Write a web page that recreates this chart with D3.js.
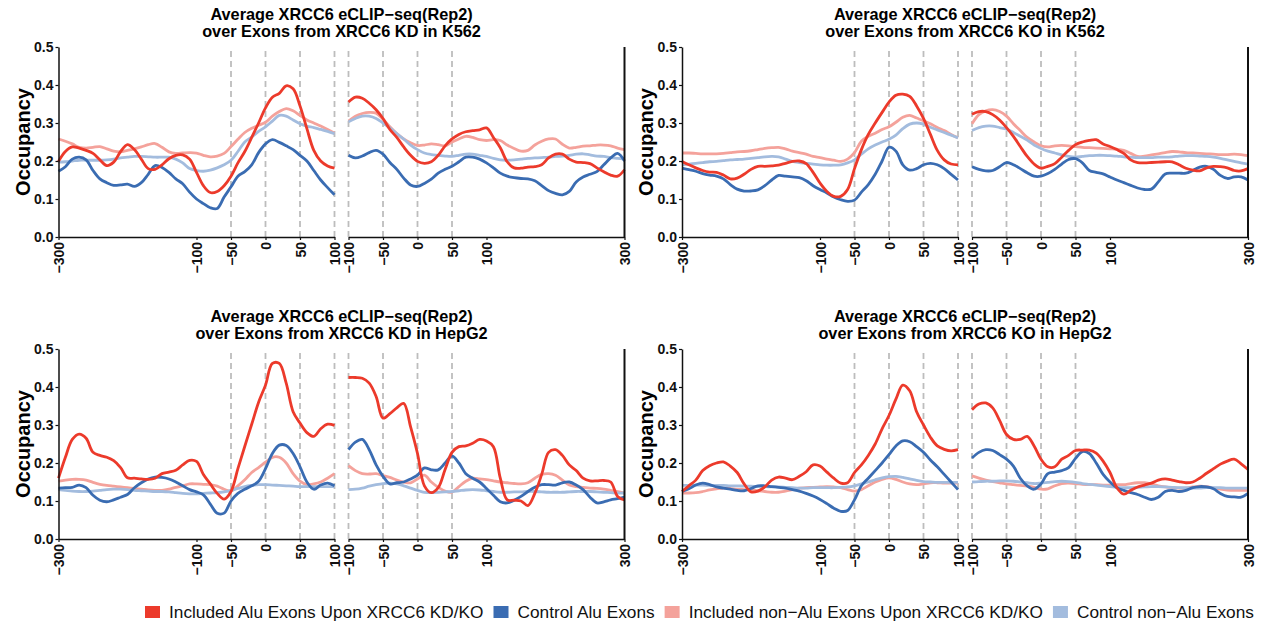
<!DOCTYPE html>
<html>
<head>
<meta charset="utf-8">
<script src="https://cdn.jsdelivr.net/npm/d3@7"></script>
<style>
  html, body { margin: 0; padding: 0; background: #fff; }
  svg { display: block; font-family: "Liberation Sans", Arial, Helvetica, sans-serif; }
</style>
</head>
<body>
<svg id="chart" width="1265" height="627"></svg>
<script>
// Positions (nt) around the upstream (3' splice site side) and downstream windows
const upPos = [-300,-290,-280,-270,-260,-250,-240,-230,-220,-210,-200,-190,-180,-170,-160,-150,-140,-130,-120,-110,-100,-90,-80,-70,-60,-50,-40,-30,-20,-10,0,10,20,30,40,50,60,70,80,90,100];
const dnPos = [-100,-90,-80,-70,-60,-50,-40,-30,-20,-10,0,10,20,30,40,50,60,70,80,90,100,110,120,130,140,150,160,170,180,190,200,210,220,230,240,250,260,270,280,290,300];

const upTicks = [-300, -100, -50, 0, 50, 100];
const dnTicks = [-100, -50, 0, 50, 100, 300];
const upGuides = [-50, 0, 50, 100];
const dnGuides = [-100, -50, 0, 50];
const yTicks = [0, 0.1, 0.2, 0.3, 0.4, 0.5];

const seriesNames = [
  "Included Alu Exons Upon XRCC6 KD/KO",
  "Control Alu Exons",
  "Included non\u2212Alu Exons Upon XRCC6 KD/KO",
  "Control non\u2212Alu Exons"
];
const seriesColors = ["#ec3a2b", "#3a6cb2", "#f4a29b", "#a3bcde"];

// ---- XRCC6 KD in K562 ----
const k562KD_incAlu_up = [0.199,0.225,0.237,0.234,0.228,0.220,0.203,0.188,0.197,0.225,0.243,0.230,0.205,0.180,0.178,0.190,0.206,0.215,0.216,0.205,0.170,0.135,0.117,0.120,0.135,0.160,0.195,0.225,0.262,0.300,0.340,0.368,0.378,0.398,0.390,0.345,0.285,0.228,0.200,0.187,0.181];
const k562KD_ctrlAlu_up = [0.173,0.185,0.205,0.210,0.203,0.175,0.153,0.143,0.136,0.137,0.139,0.133,0.143,0.165,0.188,0.183,0.170,0.153,0.140,0.118,0.100,0.088,0.077,0.075,0.105,0.132,0.160,0.172,0.190,0.222,0.245,0.256,0.249,0.240,0.230,0.215,0.200,0.175,0.150,0.130,0.111];
const k562KD_incNon_up = [0.258,0.252,0.245,0.236,0.234,0.236,0.238,0.232,0.226,0.224,0.228,0.232,0.237,0.243,0.246,0.236,0.224,0.220,0.221,0.222,0.221,0.215,0.211,0.213,0.220,0.238,0.257,0.275,0.286,0.294,0.302,0.318,0.330,0.338,0.332,0.320,0.308,0.300,0.292,0.283,0.273];
const k562KD_ctrlNon_up = [0.197,0.198,0.200,0.202,0.202,0.202,0.202,0.203,0.205,0.208,0.210,0.212,0.212,0.211,0.210,0.210,0.210,0.205,0.195,0.180,0.175,0.173,0.176,0.182,0.190,0.202,0.225,0.250,0.263,0.278,0.290,0.305,0.320,0.318,0.308,0.298,0.292,0.288,0.283,0.278,0.272];
const k562KD_incAlu_dn = [0.355,0.368,0.365,0.352,0.335,0.312,0.283,0.262,0.237,0.215,0.199,0.194,0.198,0.215,0.240,0.258,0.270,0.277,0.280,0.282,0.287,0.262,0.235,0.198,0.182,0.181,0.184,0.185,0.190,0.208,0.218,0.218,0.205,0.197,0.196,0.193,0.182,0.172,0.163,0.160,0.177];
const k562KD_ctrlAlu_dn = [0.215,0.208,0.213,0.222,0.228,0.218,0.196,0.178,0.155,0.137,0.133,0.141,0.152,0.168,0.178,0.186,0.198,0.210,0.210,0.205,0.195,0.182,0.168,0.160,0.156,0.154,0.153,0.148,0.135,0.122,0.115,0.111,0.120,0.145,0.158,0.165,0.172,0.190,0.208,0.220,0.200];
const k562KD_incNon_dn = [0.305,0.318,0.325,0.328,0.326,0.310,0.290,0.272,0.258,0.248,0.241,0.242,0.245,0.243,0.240,0.250,0.258,0.265,0.262,0.256,0.254,0.256,0.254,0.242,0.233,0.226,0.228,0.242,0.252,0.258,0.258,0.244,0.234,0.236,0.239,0.240,0.242,0.242,0.240,0.234,0.230];
const k562KD_ctrlNon_dn = [0.303,0.312,0.318,0.318,0.312,0.300,0.287,0.272,0.258,0.242,0.230,0.221,0.217,0.215,0.213,0.212,0.215,0.218,0.218,0.215,0.212,0.207,0.203,0.202,0.203,0.205,0.207,0.208,0.209,0.210,0.212,0.213,0.215,0.218,0.219,0.216,0.213,0.212,0.209,0.207,0.205];

// ---- XRCC6 KO in K562 ----
const k562KO_incAlu_up = [0.199,0.190,0.182,0.175,0.171,0.170,0.163,0.153,0.155,0.165,0.178,0.186,0.186,0.187,0.189,0.194,0.199,0.200,0.193,0.170,0.142,0.120,0.107,0.107,0.125,0.180,0.230,0.270,0.300,0.328,0.355,0.373,0.376,0.370,0.345,0.312,0.270,0.228,0.203,0.192,0.190];
const k562KO_ctrlAlu_up = [0.181,0.177,0.173,0.167,0.163,0.160,0.153,0.138,0.126,0.121,0.121,0.124,0.135,0.150,0.162,0.160,0.158,0.156,0.148,0.135,0.125,0.116,0.105,0.098,0.094,0.097,0.118,0.138,0.165,0.200,0.236,0.226,0.190,0.176,0.180,0.190,0.194,0.190,0.180,0.165,0.150];
const k562KO_incNon_up = [0.221,0.221,0.220,0.219,0.219,0.219,0.220,0.222,0.224,0.225,0.227,0.230,0.233,0.235,0.236,0.232,0.226,0.222,0.218,0.212,0.209,0.205,0.202,0.199,0.205,0.222,0.252,0.265,0.273,0.283,0.290,0.302,0.315,0.320,0.313,0.306,0.298,0.288,0.280,0.270,0.261];
const k562KO_ctrlNon_up = [0.190,0.192,0.194,0.196,0.198,0.199,0.201,0.203,0.204,0.205,0.207,0.209,0.211,0.212,0.211,0.205,0.199,0.196,0.194,0.192,0.190,0.189,0.189,0.190,0.195,0.203,0.218,0.232,0.242,0.250,0.257,0.268,0.285,0.297,0.300,0.297,0.289,0.282,0.275,0.268,0.261];
const k562KO_incAlu_dn = [0.323,0.330,0.330,0.322,0.308,0.288,0.265,0.238,0.212,0.192,0.181,0.186,0.193,0.210,0.228,0.243,0.250,0.254,0.256,0.245,0.238,0.230,0.220,0.203,0.196,0.195,0.196,0.197,0.198,0.198,0.190,0.181,0.176,0.174,0.182,0.186,0.185,0.182,0.175,0.174,0.180];
const k562KO_ctrlAlu_dn = [0.185,0.178,0.174,0.175,0.185,0.196,0.190,0.180,0.169,0.160,0.160,0.167,0.178,0.192,0.204,0.206,0.195,0.175,0.170,0.166,0.158,0.150,0.143,0.136,0.129,0.125,0.126,0.145,0.166,0.168,0.168,0.168,0.175,0.184,0.186,0.178,0.162,0.154,0.158,0.158,0.150];
const k562KO_incNon_dn = [0.298,0.322,0.332,0.335,0.330,0.318,0.298,0.280,0.262,0.250,0.240,0.237,0.240,0.241,0.240,0.238,0.236,0.235,0.234,0.233,0.232,0.231,0.228,0.220,0.212,0.213,0.216,0.219,0.222,0.225,0.224,0.222,0.221,0.220,0.219,0.218,0.217,0.217,0.218,0.217,0.214];
const k562KO_ctrlNon_dn = [0.280,0.288,0.292,0.292,0.288,0.284,0.275,0.265,0.255,0.242,0.233,0.226,0.221,0.216,0.212,0.210,0.212,0.214,0.215,0.215,0.214,0.213,0.211,0.210,0.209,0.209,0.209,0.210,0.210,0.211,0.213,0.214,0.214,0.213,0.212,0.210,0.207,0.203,0.199,0.195,0.192];

// ---- XRCC6 KD in HepG2 ----
const hepg2KD_incAlu_up = [0.160,0.215,0.262,0.276,0.265,0.228,0.220,0.215,0.206,0.188,0.161,0.160,0.158,0.157,0.160,0.172,0.176,0.181,0.195,0.207,0.204,0.170,0.145,0.120,0.105,0.125,0.185,0.244,0.302,0.360,0.405,0.462,0.462,0.410,0.335,0.305,0.280,0.270,0.290,0.302,0.299];
const hepg2KD_ctrlAlu_up = [0.134,0.135,0.136,0.142,0.135,0.115,0.102,0.098,0.103,0.110,0.117,0.135,0.148,0.158,0.163,0.162,0.158,0.150,0.140,0.130,0.124,0.116,0.092,0.068,0.068,0.100,0.120,0.131,0.140,0.152,0.185,0.225,0.247,0.246,0.225,0.190,0.150,0.131,0.142,0.147,0.140];
const hepg2KD_incNon_up = [0.152,0.155,0.157,0.157,0.155,0.149,0.144,0.141,0.139,0.137,0.135,0.133,0.131,0.129,0.128,0.128,0.131,0.136,0.140,0.145,0.145,0.144,0.143,0.139,0.131,0.126,0.140,0.156,0.175,0.188,0.202,0.215,0.215,0.200,0.172,0.152,0.143,0.145,0.150,0.160,0.172];
const hepg2KD_ctrlNon_up = [0.130,0.128,0.126,0.125,0.125,0.126,0.128,0.130,0.131,0.131,0.130,0.128,0.127,0.126,0.125,0.125,0.124,0.122,0.120,0.119,0.119,0.120,0.121,0.122,0.124,0.128,0.133,0.138,0.141,0.143,0.143,0.142,0.141,0.140,0.139,0.138,0.138,0.138,0.138,0.138,0.138];
const hepg2KD_incAlu_dn = [0.425,0.425,0.423,0.410,0.375,0.318,0.330,0.345,0.357,0.295,0.225,0.140,0.122,0.135,0.183,0.228,0.243,0.245,0.252,0.262,0.258,0.243,0.160,0.103,0.102,0.100,0.088,0.120,0.170,0.228,0.235,0.220,0.195,0.180,0.160,0.153,0.153,0.154,0.150,0.112,0.103];
const hepg2KD_ctrlAlu_dn = [0.235,0.255,0.262,0.235,0.195,0.165,0.145,0.148,0.150,0.158,0.168,0.187,0.182,0.182,0.200,0.218,0.200,0.172,0.160,0.150,0.133,0.115,0.098,0.095,0.102,0.112,0.125,0.136,0.143,0.143,0.142,0.148,0.150,0.142,0.130,0.110,0.095,0.098,0.103,0.106,0.110];
const hepg2KD_incNon_dn = [0.193,0.180,0.172,0.171,0.172,0.167,0.162,0.155,0.150,0.148,0.158,0.168,0.150,0.136,0.126,0.123,0.138,0.152,0.160,0.158,0.156,0.153,0.150,0.148,0.146,0.145,0.148,0.160,0.170,0.172,0.168,0.155,0.142,0.138,0.136,0.134,0.133,0.131,0.128,0.125,0.121];
const hepg2KD_ctrlNon_dn = [0.130,0.131,0.134,0.139,0.143,0.146,0.147,0.145,0.140,0.134,0.128,0.123,0.122,0.123,0.124,0.125,0.127,0.129,0.130,0.129,0.127,0.125,0.123,0.123,0.124,0.124,0.125,0.125,0.124,0.123,0.123,0.123,0.124,0.125,0.125,0.125,0.124,0.123,0.122,0.121,0.121];

// ---- XRCC6 KO in HepG2 ----
const hepg2KO_incAlu_up = [0.125,0.140,0.155,0.180,0.193,0.200,0.203,0.192,0.175,0.145,0.124,0.126,0.137,0.155,0.163,0.160,0.156,0.165,0.177,0.195,0.192,0.176,0.160,0.147,0.148,0.175,0.195,0.220,0.250,0.290,0.325,0.368,0.405,0.390,0.335,0.300,0.268,0.245,0.236,0.232,0.235];
const hepg2KO_ctrlAlu_up = [0.125,0.132,0.142,0.147,0.143,0.137,0.134,0.131,0.128,0.127,0.133,0.140,0.140,0.138,0.136,0.134,0.130,0.126,0.120,0.113,0.104,0.093,0.081,0.073,0.075,0.103,0.140,0.160,0.180,0.200,0.222,0.245,0.258,0.256,0.243,0.228,0.208,0.190,0.170,0.150,0.130];
const hepg2KO_incNon_up = [0.121,0.121,0.122,0.125,0.129,0.132,0.134,0.133,0.131,0.130,0.129,0.127,0.125,0.123,0.123,0.126,0.130,0.134,0.135,0.136,0.137,0.138,0.137,0.135,0.130,0.126,0.130,0.140,0.150,0.157,0.161,0.157,0.150,0.145,0.143,0.145,0.148,0.148,0.147,0.147,0.147];
const hepg2KO_ctrlNon_up = [0.141,0.141,0.142,0.142,0.141,0.141,0.141,0.140,0.140,0.139,0.139,0.138,0.138,0.137,0.137,0.136,0.135,0.134,0.134,0.135,0.135,0.135,0.135,0.136,0.137,0.140,0.145,0.150,0.156,0.161,0.164,0.165,0.162,0.158,0.154,0.151,0.150,0.149,0.149,0.149,0.149];
const hepg2KO_incAlu_dn = [0.340,0.355,0.358,0.345,0.312,0.275,0.262,0.262,0.270,0.245,0.210,0.190,0.190,0.210,0.220,0.233,0.234,0.234,0.226,0.205,0.175,0.135,0.118,0.128,0.137,0.142,0.147,0.155,0.158,0.155,0.151,0.148,0.150,0.160,0.173,0.185,0.197,0.205,0.210,0.198,0.183];
const hepg2KO_ctrlAlu_dn = [0.213,0.228,0.235,0.233,0.222,0.210,0.192,0.160,0.140,0.131,0.145,0.172,0.176,0.180,0.188,0.212,0.230,0.225,0.200,0.170,0.150,0.135,0.128,0.122,0.117,0.110,0.104,0.110,0.125,0.128,0.125,0.128,0.135,0.138,0.137,0.132,0.120,0.112,0.111,0.110,0.120];
const hepg2KO_incNon_dn = [0.166,0.160,0.155,0.151,0.148,0.145,0.143,0.141,0.139,0.136,0.131,0.132,0.140,0.146,0.147,0.146,0.144,0.143,0.143,0.142,0.142,0.143,0.143,0.146,0.148,0.148,0.145,0.140,0.137,0.135,0.134,0.134,0.137,0.139,0.138,0.134,0.131,0.129,0.128,0.128,0.128];
const hepg2KO_ctrlNon_dn = [0.150,0.151,0.152,0.152,0.153,0.153,0.152,0.150,0.148,0.146,0.147,0.149,0.151,0.152,0.151,0.149,0.146,0.144,0.142,0.140,0.138,0.136,0.135,0.135,0.136,0.137,0.138,0.138,0.137,0.136,0.135,0.135,0.134,0.134,0.135,0.135,0.135,0.134,0.134,0.134,0.134];

const panels = [
  { title: ["Average XRCC6 eCLIP\u2212seq(Rep2)", "over Exons from XRCC6 KD in K562"], col: 0, row: 0,
    up: [k562KD_incAlu_up, k562KD_ctrlAlu_up, k562KD_incNon_up, k562KD_ctrlNon_up],
    dn: [k562KD_incAlu_dn, k562KD_ctrlAlu_dn, k562KD_incNon_dn, k562KD_ctrlNon_dn] },
  { title: ["Average XRCC6 eCLIP\u2212seq(Rep2)", "over Exons from XRCC6 KO in K562"], col: 1, row: 0,
    up: [k562KO_incAlu_up, k562KO_ctrlAlu_up, k562KO_incNon_up, k562KO_ctrlNon_up],
    dn: [k562KO_incAlu_dn, k562KO_ctrlAlu_dn, k562KO_incNon_dn, k562KO_ctrlNon_dn] },
  { title: ["Average XRCC6 eCLIP\u2212seq(Rep2)", "over Exons from XRCC6 KD in HepG2"], col: 0, row: 1,
    up: [hepg2KD_incAlu_up, hepg2KD_ctrlAlu_up, hepg2KD_incNon_up, hepg2KD_ctrlNon_up],
    dn: [hepg2KD_incAlu_dn, hepg2KD_ctrlAlu_dn, hepg2KD_incNon_dn, hepg2KD_ctrlNon_dn] },
  { title: ["Average XRCC6 eCLIP\u2212seq(Rep2)", "over Exons from XRCC6 KO in HepG2"], col: 1, row: 1,
    up: [hepg2KO_incAlu_up, hepg2KO_ctrlAlu_up, hepg2KO_incNon_up, hepg2KO_ctrlNon_up],
    dn: [hepg2KO_incAlu_dn, hepg2KO_ctrlAlu_dn, hepg2KO_incNon_dn, hepg2KO_ctrlNon_dn] }
];

// ---- layout ----
const colX = [58.5, 682];      // left edge of the upstream window per column
const subW = 276;              // width of each window
const subGap = 14;             // gap between the two windows
const rowY = [{ top: 47, bottom: 237 }, { top: 349, bottom: 539 }];
const drawOrder = [2, 3, 1, 0]; // light curves underneath

const svg = d3.select("#chart");
const fmtY = d3.format(".1f");
const fmtX = d3.format("d");

panels.forEach(p => {
  const x0 = colX[p.col];
  const x1 = x0 + subW;
  const x2 = x1 + subGap;
  const x3 = x2 + subW;
  const { top, bottom } = rowY[p.row];

  const xUp = d3.scaleLinear().domain([-300, 100]).range([x0, x1]);
  const xDn = d3.scaleLinear().domain([-100, 300]).range([x2, x3]);
  const y = d3.scaleLinear().domain([0, 0.5]).range([bottom, top]);

  const g = svg.append("g");

  // title
  const cx = (x0 + x3) / 2;
  g.append("text")
    .attr("x", cx).attr("y", top - 27)
    .attr("text-anchor", "middle")
    .attr("font-size", 16.3).attr("font-weight", "bold")
    .text(p.title[0]);
  g.append("text")
    .attr("x", cx).attr("y", top - 10)
    .attr("text-anchor", "middle")
    .attr("font-size", 16.3).attr("font-weight", "bold")
    .text(p.title[1]);

  // y label
  g.append("text")
    .attr("transform", `translate(${x0 - 36},${(top + bottom) / 2}) rotate(-90)`)
    .attr("text-anchor", "middle")
    .attr("dy", "0.35em")
    .attr("font-size", 20).attr("font-weight", "bold")
    .text("Occupancy");

  // dashed guides
  const guides = g.append("g")
    .attr("stroke", "#bdbdbd").attr("stroke-width", 1.8)
    .attr("stroke-dasharray", "6,4");
  upGuides.forEach(v => guides.append("line")
    .attr("x1", xUp(v)).attr("x2", xUp(v))
    .attr("y1", y(0)).attr("y2", y(0.5)));
  dnGuides.forEach(v => guides.append("line")
    .attr("x1", xDn(v)).attr("x2", xDn(v))
    .attr("y1", y(0)).attr("y2", y(0.5)));

  // curves
  const lineUp = d3.line().x((d, i) => xUp(upPos[i])).y(d => y(d)).curve(d3.curveCatmullRom.alpha(0.5));
  const lineDn = d3.line().x((d, i) => xDn(dnPos[i])).y(d => y(d)).curve(d3.curveCatmullRom.alpha(0.5));
  drawOrder.forEach(k => {
    g.append("path").datum(p.up[k])
      .attr("d", lineUp).attr("fill", "none")
      .attr("stroke", seriesColors[k]).attr("stroke-width", 2.8)
      .attr("stroke-linejoin", "round");
    g.append("path").datum(p.dn[k])
      .attr("d", lineDn).attr("fill", "none")
      .attr("stroke", seriesColors[k]).attr("stroke-width", 2.8)
      .attr("stroke-linejoin", "round");
  });

  // y axis
  const ya = g.append("g")
    .attr("transform", `translate(${x0},0)`)
    .call(d3.axisLeft(y).tickValues(yTicks).tickFormat(fmtY).tickSize(3).tickSizeOuter(0).tickPadding(2));
  ya.select(".domain").attr("stroke", "#111").attr("stroke-width", 1.5);
  ya.selectAll(".tick line").attr("stroke", "#111").attr("stroke-width", 1.2);
  ya.selectAll(".tick text")
    .attr("font-size", 14).attr("font-weight", "bold")
    .attr("font-family", "Liberation Sans, Arial, sans-serif").attr("fill", "#111");

  // right edge line
  g.append("line")
    .attr("x1", x3).attr("x2", x3)
    .attr("y1", y(0)).attr("y2", y(0.5))
    .attr("stroke", "#111").attr("stroke-width", 2);

  // x axes
  [[xUp, upTicks], [xDn, dnTicks]].forEach(([sc, tv]) => {
    const xa = g.append("g")
      .attr("transform", `translate(0,${bottom})`)
      .call(d3.axisBottom(sc).tickValues(tv).tickFormat(fmtX).tickSize(3).tickSizeOuter(0));
    xa.select(".domain").attr("stroke", "#111").attr("stroke-width", 1.5);
    xa.selectAll(".tick line").attr("stroke", "#111").attr("stroke-width", 1.2);
    xa.selectAll(".tick text")
      .attr("transform", "rotate(-90)")
      .attr("text-anchor", "end")
      .attr("x", -5).attr("y", 0).attr("dy", "0.36em")
      .attr("font-size", 14).attr("font-weight", "bold")
      .attr("font-family", "Liberation Sans, Arial, sans-serif").attr("fill", "#111");
  });
});

// legend
const legend = svg.append("g").attr("font-size", 17.25);
let lx = 145;
const ly = 612;
seriesNames.forEach((name, i) => {
  legend.append("rect")
    .attr("x", lx).attr("y", ly - 6).attr("width", 15).attr("height", 12)
    .attr("fill", seriesColors[i]);
  const t = legend.append("text")
    .attr("x", lx + 24).attr("y", ly + 6)
    .attr("fill", "#111")
    .text(name);
  lx += 24 + t.node().getComputedTextLength() + 10;
});
</script>
</body>
</html>
